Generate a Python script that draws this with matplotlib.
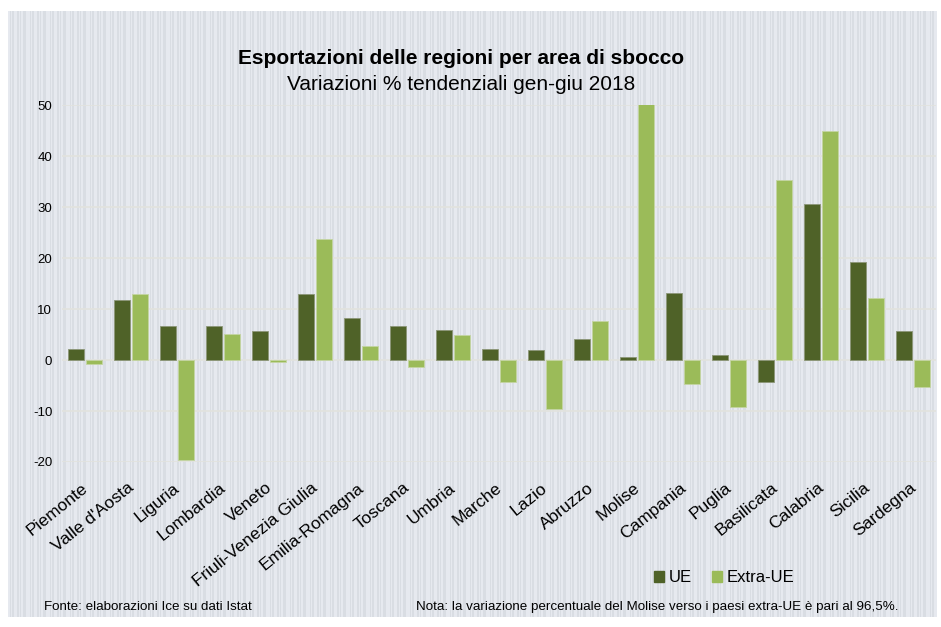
import numpy as np
import matplotlib
matplotlib.use("Agg")
import matplotlib.pyplot as plt
from matplotlib.patches import Patch
from matplotlib.transforms import ScaledTranslation

plt.rcParams["font.family"] = ["Liberation Sans", "DejaVu Sans"]

regioni = ["Piemonte", "Valle d'Aosta", "Liguria", "Lombardia", "Veneto",
           "Friuli-Venezia Giulia", "Emilia-Romagna", "Toscana", "Umbria",
           "Marche", "Lazio", "Abruzzo", "Molise", "Campania", "Puglia",
           "Basilicata", "Calabria", "Sicilia", "Sardegna"]
ue = [2.2, 11.7, 6.7, 6.7, 5.6, 12.9, 8.2, 6.7, 5.8, 2.1, 1.9, 4.1,
      0.5, 13.1, 0.9, -4.3, 30.6, 19.3, 5.6]
extra_ue = [-0.7, 12.9, -19.6, 5.1, -0.3, 23.7, 2.7, -1.3, 5.0, -4.4,
            -9.7, 7.7, 96.5, -4.8, -9.2, 35.2, 45.0, 12.2, -5.3]
y_ticks = [-20, -10, 0, 10, 20, 30, 40, 50]

W, H = 941, 627
fig = plt.figure(figsize=(W / 100, H / 100), dpi=100, facecolor="white")

# striped background panel
bg = fig.add_axes([8 / W, (H - 617) / H, (937 - 8) / W, (617 - 11) / H], zorder=-10)
light = np.array([0.902, 0.914, 0.941])
dark = np.array([0.851, 0.867, 0.894])
pattern = [1, 1, 0, 1, 0, 0, 1, 1, 1, 0, 0, 1, 0, 1, 1, 0, 0, 0, 1, 1]
stripes = np.array([light if p else dark for p in pattern])
stripes = np.tile(stripes, (60, 1))[:929]
bg.imshow(stripes[None, :, :], aspect="auto", interpolation="nearest")
bg.axis("off")

ax = fig.add_axes([62 / W, (H - 462) / H, (936 - 62) / W, (462 - 105) / H])
ax.patch.set_alpha(0)

x = np.arange(len(regioni))
w = 0.35
ax.bar(x - 0.19, ue, w, color="#4f6228", edgecolor="#8c9678", linewidth=0.6,
       zorder=3, label="UE")
ax.bar(x + 0.19, extra_ue, w, color="#9bbb59", edgecolor="#c4d5a2", linewidth=0.6,
       zorder=3, label="Extra-UE")

ax.set_xlim(-0.5, len(regioni) - 0.5)
ax.set_ylim(-20, 50)
ax.set_yticks(y_ticks)
ax.set_yticklabels([str(v) for v in y_ticks], fontsize=9.5)
ax.yaxis.grid(True, color="#e2e2de", linewidth=1.2, zorder=0)
ax.set_axisbelow(True)
ax.tick_params(axis="both", length=0)
ax.tick_params(axis="y", pad=7)
for s in ax.spines.values():
    s.set_visible(False)

ax.set_xticks(x)
ax.set_xticklabels(regioni, rotation=39, ha="right", rotation_mode="anchor",
                   fontsize=12.5)
ax.tick_params(axis="x", pad=13)
shift = ScaledTranslation(-4 / 100, 0, fig.dpi_scale_trans)
for lbl in ax.get_xticklabels():
    lbl.set_transform(lbl.get_transform() + shift)

fig.text(461 / W, 1 - 58 / H, "Esportazioni delle regioni per area di sbocco",
         ha="center", va="center", fontsize=15, fontweight="bold")
fig.text(461 / W, 1 - 85 / H, "Variazioni % tendenziali gen-giu 2018",
         ha="center", va="center", fontsize=15)

handles = [Patch(color="#4f6228", label="UE"), Patch(color="#9bbb59", label="Extra-UE")]
fig.legend(handles=handles, loc="center", bbox_to_anchor=(724 / W, 1 - 578 / H),
           ncol=2, frameon=False, fontsize=12, handlelength=0.6, handleheight=0.6,
           handletextpad=0.3, columnspacing=1.2)

fig.text(44 / W, 1 - 607 / H, "Fonte: elaborazioni Ice su dati Istat",
         ha="left", va="center", fontsize=9.6)
fig.text(898 / W, 1 - 607 / H,
         "Nota: la variazione percentuale del Molise verso i paesi extra-UE è pari al 96,5%.",
         ha="right", va="center", fontsize=9.6)

fig.savefig("out.png", dpi=100, facecolor="white")
